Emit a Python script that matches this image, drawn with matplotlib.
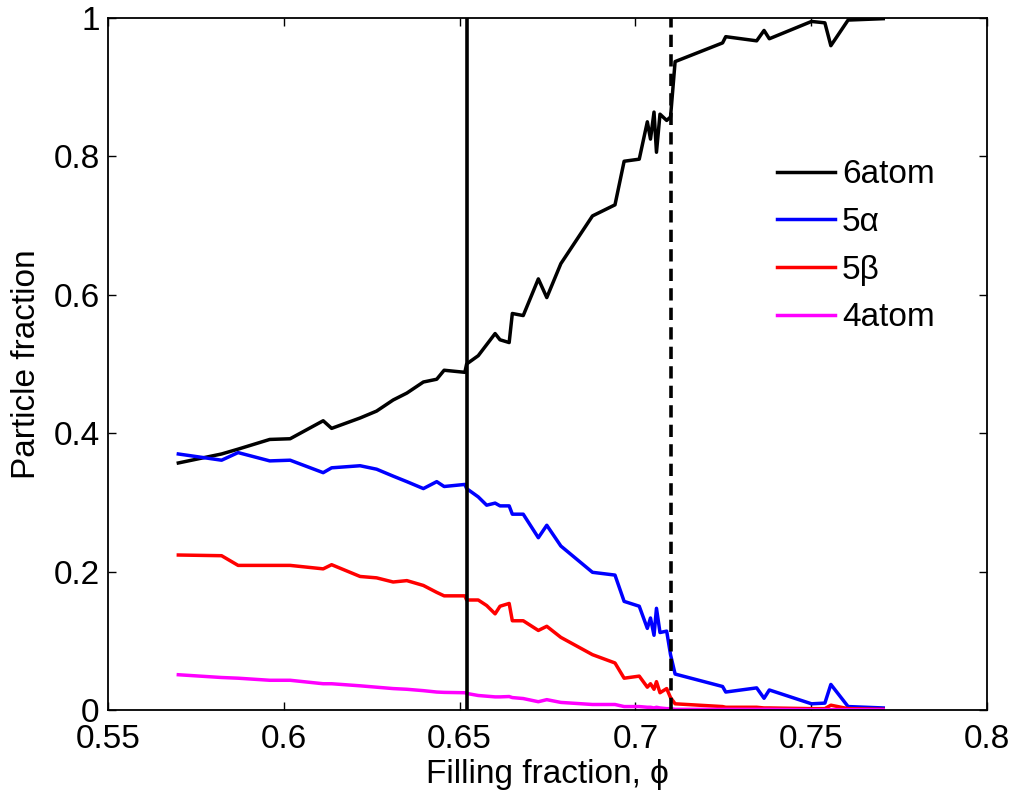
import matplotlib
matplotlib.use("Agg")
import matplotlib.pyplot as plt

plt.rcParams['font.family'] = ['Liberation Sans', 'DejaVu Sans']

# filling fraction samples shared by the four curves
phi = [0.570, 0.5823, 0.587, 0.596, 0.6018, 0.6112, 0.6136, 0.6217, 0.6264, 0.6311,
       0.635, 0.6397, 0.6435, 0.6456, 0.6515, 0.652, 0.6553, 0.6577, 0.6601, 0.6615,
       0.6641, 0.665, 0.6681, 0.6724, 0.6748, 0.6788, 0.6878, 0.6942, 0.6968, 0.7011,
       0.7034, 0.7043, 0.7053, 0.706, 0.707, 0.7089, 0.71, 0.7113, 0.7248, 0.7257,
       0.7345, 0.7366, 0.7381, 0.7501, 0.7539, 0.7556, 0.7605, 0.7705]

six_atom = [0.357, 0.370, 0.377, 0.391, 0.392, 0.418, 0.407, 0.422, 0.432, 0.448,
            0.458, 0.474, 0.478, 0.491, 0.488, 0.500, 0.512, 0.528, 0.544, 0.535,
            0.531, 0.573, 0.570, 0.623, 0.596, 0.645, 0.714, 0.730, 0.793, 0.796,
            0.850, 0.825, 0.864, 0.806, 0.861, 0.852, 0.857, 0.937, 0.964, 0.973,
            0.967, 0.982, 0.970, 0.995, 0.993, 0.960, 0.997, 0.999]

five_alpha = [0.370, 0.361, 0.372, 0.360, 0.361, 0.343, 0.350, 0.353, 0.348, 0.338,
              0.330, 0.320, 0.330, 0.323, 0.326, 0.320, 0.308, 0.296, 0.299, 0.295,
              0.295, 0.283, 0.283, 0.249, 0.267, 0.237, 0.199, 0.195, 0.157, 0.150,
              0.118, 0.133, 0.108, 0.147, 0.112, 0.114, 0.080, 0.052, 0.034, 0.026,
              0.032, 0.017, 0.029, 0.009, 0.010, 0.037, 0.005, 0.003]

five_beta = [0.224, 0.223, 0.209, 0.209, 0.209, 0.204, 0.210, 0.193, 0.191, 0.185,
             0.187, 0.180, 0.170, 0.165, 0.165, 0.159, 0.159, 0.151, 0.139, 0.150,
             0.154, 0.129, 0.129, 0.115, 0.121, 0.105, 0.080, 0.068, 0.046, 0.049,
             0.033, 0.038, 0.030, 0.041, 0.025, 0.031, 0.018, 0.009, 0.005, 0.004,
             0.004, 0.003, 0.003, 0.002, 0.002, 0.007, 0.002, 0.001]

four_atom = [0.051, 0.047, 0.046, 0.043, 0.043, 0.038, 0.038, 0.035, 0.033, 0.031,
             0.030, 0.028, 0.026, 0.0255, 0.025, 0.024, 0.021, 0.020, 0.019, 0.019,
             0.0195, 0.018, 0.0166, 0.012, 0.015, 0.011, 0.008, 0.008, 0.005, 0.005,
             0.004, 0.004, 0.003, 0.004, 0.003, 0.002, 0.002, 0.001, 0.001, 0.001,
             0.001, 0.001, 0.001, 0.0005, 0.0005, 0.0005, 0.0005, 0.0005]

solid_phi = 0.652
dashed_phi = 0.71

x_ticks = [0.55, 0.6, 0.65, 0.7, 0.75, 0.8]
x_labels = ['0.55', '0.6', '0.65', '0.7', '0.75', '0.8']
y_ticks = [0, 0.2, 0.4, 0.6, 0.8, 1]
y_labels = ['0', '0.2', '0.4', '0.6', '0.8', '1']

fig = plt.figure(figsize=(10.2, 7.96), dpi=100)
ax = fig.add_axes([0.1059, 0.108, 0.8617, 0.8694])

lw = 2.5
ax.plot(phi, six_atom, color='black', lw=lw, label='6atom')
ax.plot(phi, five_alpha, color=(0, 0, 1), lw=lw, label='5\u03b1')
ax.plot(phi, five_beta, color=(1, 0, 0), lw=lw, label='5\u03b2')
ax.plot(phi, four_atom, color=(1, 0, 1), lw=lw, label='4atom')

ax.axvline(solid_phi, color='black', lw=2.6)
ax.axvline(dashed_phi, color='black', lw=2.6, dashes=(3.4, 2.0))

ax.set_xlim(0.55, 0.8)
ax.set_ylim(0, 1)
ax.set_xticks(x_ticks)
ax.set_xticklabels(x_labels)
ax.set_yticks(y_ticks)
ax.set_yticklabels(y_labels)

ax.tick_params(direction='in', length=6, width=1, top=True, right=True,
               labelsize=24, colors='black')
ax.tick_params(axis='x', pad=10)
ax.tick_params(axis='y', pad=6)
for sp in ax.spines.values():
    sp.set_linewidth(1.3)

ax.set_xlabel('Filling fraction, \u03d5', fontsize=24, labelpad=3)
ax.set_ylabel('Particle fraction', fontsize=24, labelpad=8)

ax.legend(loc='upper left', bbox_to_anchor=(0.746, 0.815), frameon=False,
          fontsize=24, handlelength=1.75, handletextpad=0.2, labelspacing=0.5,
          borderaxespad=0)

fig.savefig('out.png', dpi=100)
